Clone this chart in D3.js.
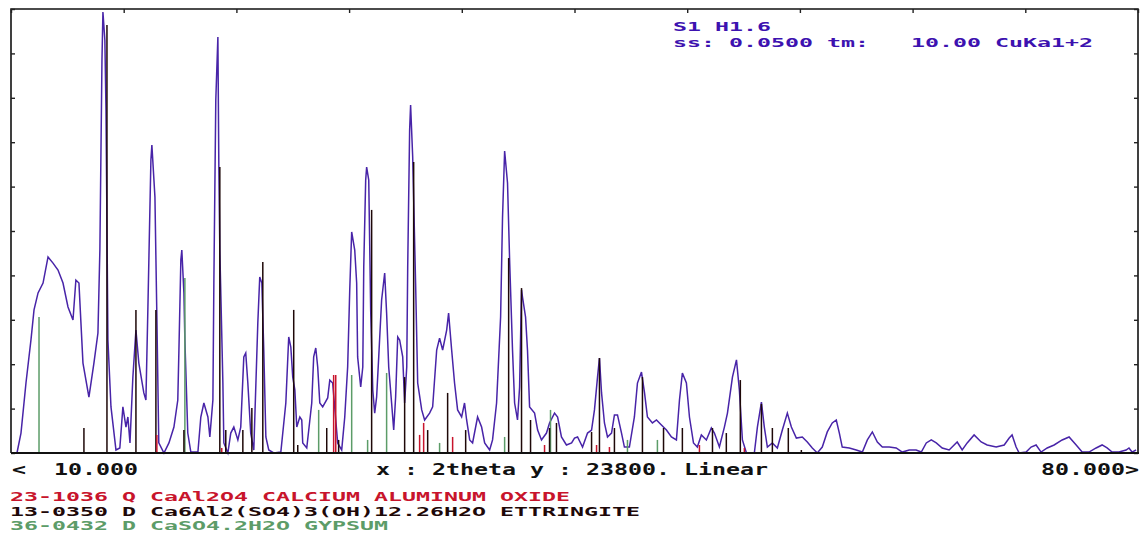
<!DOCTYPE html>
<html><head><meta charset="utf-8">
<script src="https://cdn.jsdelivr.net/npm/d3@7"></script>
<style>body{margin:0;background:#fff}svg{display:block}text{white-space:pre}</style>
</head><body><svg id="c" width="1141" height="535"></svg>
<script>
// ---- measured pattern (2theta, counts) ----
const twoTheta = [10.37,10.62,10.93,11.24,11.43,11.68,11.99,12.30,12.61,12.92,
13.23,13.54,13.85,14.03,14.22,14.47,14.84,15.15,15.40,15.52,
15.65,15.71,15.83,15.90,16.02,16.21,16.52,16.76,16.95,17.14,
17.26,17.39,17.57,17.76,17.94,18.25,18.38,18.50,18.69,18.75,
18.94,19.06,19.18,19.50,19.81,20.12,20.36,20.43,20.55,20.61,
20.74,20.80,20.98,21.17,21.61,21.79,21.98,22.23,22.35,22.54,
22.60,22.72,22.85,22.91,22.97,23.16,23.22,23.47,23.65,23.84,
24.09,24.27,24.46,24.58,24.71,24.89,25.08,25.33,25.45,25.58,
25.70,25.83,26.01,26.32,26.76,27.07,27.25,27.38,27.50,27.63,
27.75,27.94,28.06,28.12,28.37,28.68,28.80,28.93,29.05,29.18,
29.36,29.67,29.80,29.98,30.29,30.54,30.73,30.91,31.04,31.16,
31.35,31.47,31.53,31.72,31.85,31.91,32.03,32.09,32.22,32.34,
32.47,32.59,32.71,32.84,33.02,33.21,33.33,33.46,33.64,33.77,
33.89,34.02,34.14,34.33,34.45,34.58,34.64,34.76,34.82,34.95,
35.13,35.26,35.51,35.69,36.00,36.19,36.44,36.62,36.81,37.06,
37.18,37.37,37.55,37.74,37.99,38.17,38.30,38.49,38.67,38.98,
39.23,39.42,39.73,39.91,40.16,40.41,40.53,40.66,40.84,40.97,
41.15,41.28,41.46,41.59,41.71,41.77,41.96,42.08,42.21,42.52,
42.71,42.95,43.26,43.45,43.76,43.95,44.19,44.50,44.82,45.00,
45.19,45.50,45.81,46.06,46.24,46.43,46.55,46.68,46.86,47.05,
47.30,47.48,47.67,47.92,48.10,48.41,48.72,48.91,49.16,49.35,
49.53,49.84,50.09,50.40,50.71,51.02,51.33,51.52,51.70,51.95,
52.14,52.39,52.63,52.88,53.19,53.50,53.69,54.00,54.31,54.50,
54.81,55.06,55.24,55.43,55.68,56.17,56.36,56.61,56.79,56.98,
57.29,57.60,57.91,58.22,58.47,58.78,59.15,59.46,59.77,60.08,
60.39,60.70,61.01,61.26,61.45,61.63,62.07,62.50,62.88,63.19,
63.50,63.81,64.12,64.55,64.98,65.36,65.79,66.22,66.54,66.85,
67.16,67.47,67.84,68.27,68.58,68.77,69.08,69.39,69.82,70.26,
70.63,71.19,71.69,72.00,72.18,72.43,72.62,73.05,73.36,73.67,
73.98,74.36,74.79,75.29,75.72,76.16,76.53,76.96,77.40,77.77,
78.08,78.39,78.82,79.26,79.44,79.63,79.88];
const counts = [0,1070,3750,6060,7670,8580,9110,10510,10180,9810,
9110,7830,7130,9270,9110,4820,3000,4820,6430,10880,
21070,23640,22140,18390,6060,2470,160,270,2470,1390,
1930,540,4070,6590,4820,3220,2840,7670,15710,16510,
13720,7290,540,0,540,1390,2840,5520,10350,10880,
8580,6060,1070,50,50,1930,2680,1930,860,2840,
9110,18920,22300,15330,10880,3750,540,0,1070,1390,
700,1390,5150,5360,3750,1070,160,6970,9430,9110,
5520,860,160,0,50,2680,6220,5680,4070,3380,
1390,1930,1770,540,270,2680,5150,5630,4610,2680,
2470,2950,3910,3750,540,160,1930,4610,8740,11850,
10880,9110,5150,3540,4610,9970,14630,15330,14630,7670,
3380,2140,3000,5150,8200,9650,7500,4610,2680,1230,
3000,6220,6060,5150,2680,4610,9970,17310,18650,15870,
9110,3750,2310,1770,2140,2470,5520,6160,5520,6590,
7500,5520,3750,2310,1930,2680,1770,700,540,1930,
1390,540,160,700,2680,7290,12650,16190,14470,10350,
5520,2680,1770,3540,8740,8360,7290,5520,2470,2140,
1230,700,1070,1610,2140,1930,860,430,540,800,
860,320,1070,1230,2310,4070,5090,3220,1610,860,
1070,2040,2040,1070,320,320,1930,3750,4340,3220,
1930,1610,1770,1500,1230,860,700,2840,4290,3750,
1930,540,320,970,700,1340,1070,320,1390,2140,
4070,4990,3380,700,0,0,1390,2730,1390,320,
540,270,1230,2140,1390,800,860,590,270,0,
320,1130,1610,1770,1070,320,270,160,50,700,
1130,590,320,320,270,50,160,160,50,540,
700,540,270,160,430,590,160,540,970,590,
430,320,430,800,970,320,0,50,320,430,
50,270,430,700,860,430,50,50,270,430,
270,50,50,160,270,50,160];

// ---- reference cards (stick positions / heights in counts) ----
const ettringite2T = [14.53,15.96,17.76,19.00,20.74,22.97,23.34,24.40,24.96,25.64,27.56,27.81,29.61,30.35,32.40,34.45,35.01,35.88,37.12,38.24,40.91,41.71,42.27,43.45,43.88,46.06,46.55,47.48,49.22,50.53,51.70,53.57,54.43,55.30,56.61,57.29,58.28,59.09];
const ettringiteI  = [1340,22940,7670,7670,1230,15330,1230,1230,2410,10240,7670,430,1340,700,13030,4070,15600,1230,3220,1230,10450,8840,1770,1340,1610,1130,5090,1340,4070,1340,1340,1340,1070,3910,2630,1340,1340,160];
const calAlum2T = [19.06,23.09,30.04,30.17,35.38,35.63,37.43,43.14,46.37,47.17,52.76,55.55];
const calAlumI  = [970,270,4180,4180,970,1610,860,430,430,320,430,270];
const gypsum2T = [11.74,20.80,29.11,31.16,32.15,33.33,36.62,40.66,43.51,48.29,50.15];
const gypsumI  = [7290,9380,2310,4180,700,4290,540,860,2310,700,700];

const xMin = 10, xMax = 80, yMax = 23800;
const xTicks = d3.range(10, 80.001, 7);
const yTicks = d3.range(0, 23800.1, 2380);

const headerLines = ["S1 H1.6", "ss: 0.0500 tm:   10.00 CuKa1+2"];
const axisLeftLabel = "<  10.000";
const axisMidLabel = "x : 2theta y : 23800. Linear";
const axisRightLabel = "80.000>";
const cardLabels = ["23-1036 Q CaAl2O4 CALCIUM ALUMINUM OXIDE",
                    "13-0350 D Ca6Al2(SO4)3(OH)12.26H2O ETTRINGITE",
                    "36-0432 D CaSO4.2H2O GYPSUM"];
const cardColors = ["#c8142c", "#1e0808", "#5c9c68"];

// ---- drawing ----
const svg = d3.select("#c");
const L = 11, R = 1138, T = 9, B = 453;
const x = d3.scaleLinear().domain([xMin, xMax]).range([L, R]);
const y = d3.scaleLinear().domain([0, yMax]).range([B, T]);

svg.append("rect").attr("width", 1141).attr("height", 535).attr("fill", "#fff");

// frame
svg.append("path")
  .attr("d", `M${L},${B}V${T}H${R}V${B}`)
  .attr("fill", "none").attr("stroke", "#111").attr("stroke-width", 1.6);

// axes ticks (inward)
const tickStyle = g => { g.select(".domain").remove(); g.selectAll("line").attr("stroke", "#222").attr("stroke-width", 1.4); g.selectAll("text").remove(); };
svg.append("g").attr("transform", `translate(0,${T})`)
  .call(d3.axisTop(x).tickValues(xTicks).tickSize(-4).tickFormat("")).call(tickStyle);
svg.append("g").attr("transform", `translate(${L},0)`)
  .call(d3.axisLeft(y).tickValues(yTicks).tickSize(-4).tickFormat("")).call(tickStyle);
svg.append("g").attr("transform", `translate(${R},0)`)
  .call(d3.axisRight(y).tickValues(yTicks).tickSize(-4).tickFormat("")).call(tickStyle);

// trace
const pts = twoTheta.map((t, i) => [t, counts[i]]);
svg.append("path").datum(pts)
  .attr("d", d3.line().x(d => x(d[0])).y(d => y(d[1])))
  .attr("fill", "none").attr("stroke", "#4824a8").attr("stroke-width", 1.5)
  .attr("stroke-linejoin", "miter");

// sticks
function sticks(pos, ints, color) {
  svg.append("g").selectAll("line").data(pos.map((p, i) => [p, ints[i]])).join("line")
    .attr("x1", d => x(d[0])).attr("x2", d => x(d[0]))
    .attr("y1", y(0)).attr("y2", d => y(d[1]))
    .attr("stroke", color).attr("stroke-width", 1.5);
}
sticks(gypsum2T, gypsumI, cardColors[2]);
sticks(ettringite2T, ettringiteI, cardColors[1]);
sticks(calAlum2T, calAlumI, cardColors[0]);

// bottom axis line
svg.append("line").attr("x1", L).attr("x2", 1139).attr("y1", B).attr("y2", B)
  .attr("stroke", "#111").attr("stroke-width", 2.2);

// text helper: DOS style monospaced, 14px per character
const CW = 14;
function dosText(str, x0, yb, color, size) {
  svg.append("text").attr("x", x0).attr("y", yb)
    .attr("font-family", "'DejaVu Sans Mono', monospace").attr("font-weight", "bold")
    .attr("font-size", size).attr("fill", color)
    .attr("textLength", str.length * CW).attr("lengthAdjust", "spacingAndGlyphs")
    .text(str);
}
dosText(headerLines[0], 673, 31, "#3d12b0", 13);
dosText(headerLines[1], 673, 46.5, "#3d12b0", 13);
dosText(axisLeftLabel, 12, 475, "#111", 16);
dosText(axisMidLabel, 376, 475, "#111", 16);
dosText(axisRightLabel, 1139 - axisRightLabel.length * CW, 475, "#111", 16);
cardLabels.forEach((s, i) => dosText(s, 10, 501 + i * 14.5, cardColors[i], 13));
</script></body></html>
